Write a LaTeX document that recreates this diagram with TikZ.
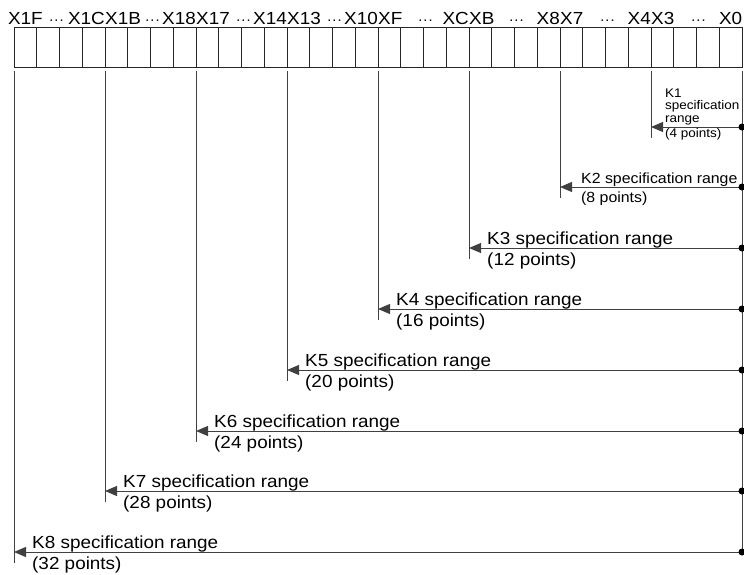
\documentclass[tikz,border=0pt]{standalone}
\usepackage{fontspec}
\setmainfont[FakeStretch=1.08]{Liberation Sans}
\usetikzlibrary{arrows.meta}

\tikzset{
  cell/.style={draw=black!85,line width=1pt,minimum width=22.75pt,minimum height=40pt,inner sep=0pt,outer sep=0pt},
  bitlabel/.style={inner sep=0pt,font=\fontsize{17.5}{18}\selectfont},
  rangeline/.style={draw=black!75,line width=1pt},
  rangetip/.style={-{Triangle[length=12pt,width=10pt]}},
  rangetext/.style={inner sep=0pt,anchor=base west,font=\fontsize{17.5}{18}\selectfont},
  smalltext/.style={inner sep=0pt,anchor=base west,align=left,font=\fontsize{12.5}{12.5}\selectfont}
}

\begin{document}
\begin{tikzpicture}[x=1pt,y=-1pt]
  \useasboundingbox (0,0) rectangle (744,574);
  \foreach \i in {0,...,31}
    \node[cell] (c\i) at ({25.375+22.75*\i},47) {};

  \node[bitlabel,anchor=base] (b1F) at ([yshift=3pt]c0.north) {X1F};
  \node[bitlabel,anchor=base] (b0) at ([yshift=3pt]c31.north) {X0};
  \foreach \n/\l/\r in {4/X1C/X1B, 8/X18/X17, 12/X14/X13, 16/X10/XF, 20/XC/XB, 24/X8/X7, 28/X4/X3} {
    \node[bitlabel,anchor=base east] (l\n) at ([yshift=3pt]c\n.north west) {\l};
    \node[bitlabel,anchor=base west] (r\n) at ([yshift=3pt]c\n.north west) {\r};
  }
  \node[bitlabel,anchor=base,font=\fontsize{14}{14}\selectfont] (d2) at ([xshift=-3pt,yshift=3pt]c2.north west) {···};
  \foreach \n in {6,10,...,30}
    \node[bitlabel,anchor=base,font=\fontsize{14}{14}\selectfont] (d\n) at ([xshift=2pt,yshift=3pt]c\n.north west) {···};

  \coordinate (top0) at ([yshift=-4pt]c31.south east);
  \coordinate (end0) at (top0 |- 0,552);
  \draw[rangeline] (top0) -- (end0);

  \foreach \k/\y/\n in {1/127/28, 2/187/24, 3/248/20, 4/309/16, 5/370/12, 6/431/8, 7/491/4, 8/552/0} {
    \coordinate (top\k) at ([yshift=-4pt]c\n.south west);
    \coordinate (bot\k) at (top\k |- 0,{\y+11});
    \coordinate (s\k) at (top\k |- 0,\y);
    \coordinate (e\k) at (top0 |- 0,\y);
    \draw[rangeline] (top\k) -- (bot\k);
    \draw[rangeline,rangetip] (e\k) -- (s\k);
    \fill[black] (e\k) circle (3.5pt);
  }

  \node[smalltext] (k1) at ([xshift=14pt,yshift=5pt]s1) {K1\\specification\\range};
  \node[smalltext] (p1) at ([xshift=14pt,yshift=-10pt]s1) {(4 points)};
  \node[rangetext,font=\fontsize{14.7}{15}\selectfont] (k2) at ([xshift=21pt,yshift=4pt]s2) {K2 specification range};
  \node[rangetext,font=\fontsize{14.7}{15}\selectfont] (p2) at ([xshift=21pt,yshift=-15pt]s2) {(8 points)};
  \foreach \k/\p in {3/12, 4/16, 5/20, 6/24, 7/28, 8/32} {
    \node[rangetext] (k\k) at ([xshift=18pt,yshift=4pt]s\k) {K\k{} specification range};
    \node[rangetext] (p\k) at ([xshift=18pt,yshift=-17pt]s\k) {(\p{} points)};
  }
\end{tikzpicture}
\end{document}
